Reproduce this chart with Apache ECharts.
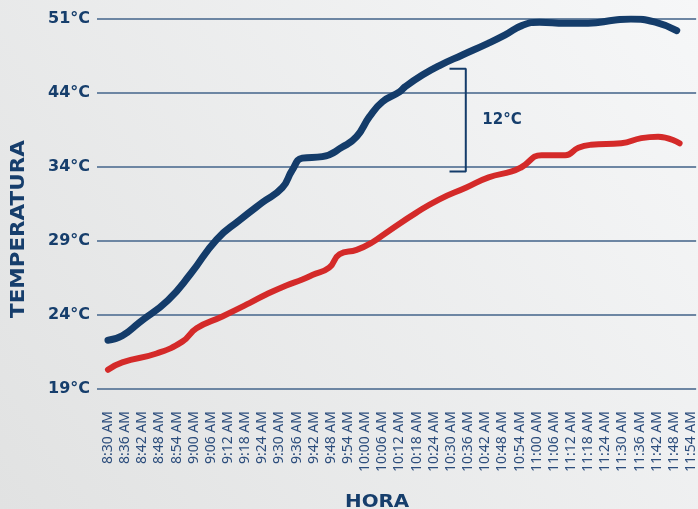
<!DOCTYPE html>
<html>
<head>
<meta charset="utf-8">
<script src="https://cdn.jsdelivr.net/npm/echarts@6/dist/echarts.min.js"></script>
<style>
html,body{margin:0;padding:0;}
#chart{width:698px;height:509px;}
</style>
</head>
<body>
<div id="chart"></div>
<script>
// ---- Data ----
const xTickLabels = ['8:30 AM','8:36 AM','8:42 AM','8:48 AM','8:54 AM','9:00 AM','9:06 AM','9:12 AM','9:18 AM','9:24 AM','9:30 AM','9:36 AM','9:42 AM','9:48 AM','9:54 AM','10:00 AM','10:06 AM','10:12 AM','10:18 AM','10:24 AM','10:30 AM','10:36 AM','10:42 AM','10:48 AM','10:54 AM','11:00 AM','11:06 AM','11:12 AM','11:18 AM','11:24 AM','11:30 AM','11:36 AM','11:42 AM','11:48 AM','11:54 AM'];
const xTickMinutes = [0,6,12,18,24,30,36,42,48,54,60,66,72,78,84,90,96,102,108,114,120,126,132,138,144,150,156,162,168,174,180,186,192,198,204];
const yTickValues = [19,24,29,34,44,51];
const yTickLabels = ['19°C','24°C','29°C','34°C','44°C','51°C'];

// minutes after 8:30 AM
const blueMinutes = [0,5,11,21,29,38,46,54,61,64.5,68,75,82,87,91.5,96,102,104,110,116,124,133,139,145,151,160,168,177.5,183,191.5,199];
const blueTemps   = [22.3,22.6,23.5,25.0,26.8,29.1,30.4,31.6,32.6,33.8,35.2,35.4,36.7,38.1,40.8,42.8,44.1,44.6,45.7,46.6,47.6,48.7,49.5,50.4,50.7,50.6,50.6,50.9,51.0,50.7,49.9];

const redMinutes = [0,5,17,26,31,40,49.5,55.5,62.4,68,71.5,77.4,81,87,92.4,98.4,107.8,115.8,125.2,133.2,141.3,144.8,151.7,160,164.6,169,179.6,186.6,192.5,200];
const redTemps   = [20.3,20.8,21.4,22.2,23.1,23.9,24.8,25.4,26.0,26.4,26.7,27.2,28.1,28.4,28.9,29.7,30.9,31.8,32.6,33.3,33.7,34.0,35.6,35.6,36.6,37.0,37.2,37.9,38.1,37.2];

// bracket annotation (difference)
const bracketMinutes = [119.5,125.2,125.2,119.5];
const bracketTemps   = [46.3,46.3,33.7,33.7];
const bracketLabel = '12°C';

// ---- Axis mapping: evenly spaced gridlines for the labelled temperatures ----
function toAxis(t){
  for (let i = 0; i < yTickValues.length - 1; i++){
    const a = yTickValues[i], b = yTickValues[i+1];
    if (t <= b || i === yTickValues.length - 2){
      return i + (t - a) / (b - a);
    }
  }
}
function pairs(xs, ts){ return xs.map((x,i)=>[x, toAxis(ts[i])]); }

const navy = '#143c6a';
const red = '#d42a29';
const font = 'DejaVu Sans';

const chart = echarts.init(document.getElementById('chart'));
chart.setOption({
  backgroundColor: new echarts.graphic.LinearGradient(1,0,0,1,[
    {offset:0,color:'#f6f7f8'},{offset:1,color:'#e1e2e2'}
  ]),
  animation:false,
  grid:{left:97,right:0,top:19,bottom:120},
  xAxis:{
    type:'value', min:-3.84, max:205.8,
    axisLine:{show:false}, axisTick:{show:false}, splitLine:{show:false},
    axisLabel:{
      customValues: xTickMinutes,
      rotate:90, margin:22,
      fontFamily:'Noto Sans', fontSize:14, color:'#2c4d7c',
      formatter:(v)=>{ const i = xTickMinutes.indexOf(Math.round(v)); return i>=0 ? xTickLabels[i] : ''; }
    }
  },
  yAxis:{
    type:'value', min:0, max:5, interval:1,
    axisLine:{show:false}, axisTick:{show:false},
    splitLine:{show:true, lineStyle:{color:'#6d86a3', width:2}},
    axisLabel:{
      margin:7, fontFamily:font, fontWeight:'bold', fontSize:16, color:'#163e6c',
      formatter:(v)=>yTickLabels[Math.round(v)]
    }
  },
  series:[
    {
      name:'Temperatura A', type:'line', smooth:0.5, symbol:'none',
      data:pairs(blueMinutes, blueTemps),
      lineStyle:{color:navy, width:7, cap:'round', join:'round'}, z:3
    },
    {
      name:'Temperatura B', type:'line', smooth:0.5, symbol:'none',
      data:pairs(redMinutes, redTemps),
      lineStyle:{color:red, width:6, cap:'round', join:'round'}, z:3
    },
    {
      name:'Diferencia', type:'line', smooth:false, symbol:'none',
      data:pairs(bracketMinutes, bracketTemps),
      lineStyle:{color:navy, width:2}, z:2
    },
    {
      name:'Etiqueta', type:'scatter', symbolSize:1,
      itemStyle:{opacity:0},
      data:[[ (bracketMinutes[1]), (toAxis(bracketTemps[0])+toAxis(bracketTemps[2]))/2 ]],
      label:{show:true, position:'right', distance:16, formatter:bracketLabel, opacity:1,
        fontFamily:font, fontWeight:'bold', fontSize:15, color:'#163e6c'},
      z:4
    }
  ],
  graphic:[
    {type:'text', rotation:Math.PI/2, x:10, y:318, scaleX:1.13,
      style:{text:'TEMPERATURA', font:'bold 19px "DejaVu Sans"', fill:'#163e6c', textVerticalAlign:'top'}},
    {type:'text', x:345, y:494, scaleX:1.17,
      style:{text:'HORA', font:'bold 17px "DejaVu Sans"', fill:'#163e6c', textVerticalAlign:'top'}}
  ]
});
</script>
</body>
</html>
